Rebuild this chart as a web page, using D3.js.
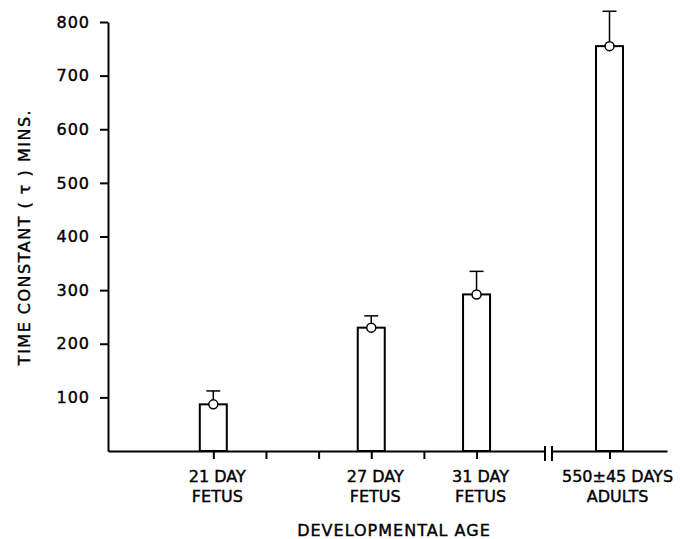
<!DOCTYPE html>
<html>
<head>
<script src="https://cdnjs.cloudflare.com/ajax/libs/d3/7.8.5/d3.min.js"></script>
<style>
  body { margin: 0; background: #fff; }
  text { font-family: "DejaVu Sans", sans-serif; fill: #000; stroke: #000; stroke-width: 0.4px; }
</style>
</head>
<body>
<script>
// groups
const labelTop = ["21 DAY", "27 DAY", "31 DAY", "550\u00B145 DAYS"];
const labelBottom = ["FETUS", "FETUS", "FETUS", "ADULTS"];
const ageDays = [21, 27, 31, null];      // null = adult group, past the axis break
const tau = [87, 230, 292, 755];         // mean time constant, mins
const tauUpper = [112, 252, 335, 820];   // top of error bar
const fetalTicks = [21, 23, 25, 27, 29, 31];
const yTicks = [100, 200, 300, 400, 500, 600, 700, 800];

const w = 680, h = 539;
const barW = 27;

const svg = d3.select("body").append("svg")
  .attr("width", w).attr("height", h);

const y = d3.scaleLinear().domain([0, 800]).range([451, 22]);
const xFetal = d3.scaleLinear().domain([17, 33.6]).range([108, 545]);
const xAdult = d3.scalePoint().domain(["adult"]).range([552, 667]);

const xPos = i => ageDays[i] === null ? xAdult("adult") : xFetal(ageDays[i]);

// y axis
const yAxis = svg.append("g")
  .attr("transform", "translate(108,0)")
  .call(d3.axisLeft(y).tickValues(yTicks).tickSize(8).tickSizeOuter(0).tickPadding(10));
yAxis.selectAll("path, line").attr("stroke", "#000").attr("stroke-width", 2);
yAxis.selectAll("text")
  .style("font-size", "16px").style("letter-spacing", "1px");

// x axis, two pieces with a break
svg.append("g")
  .attr("transform", "translate(0,451)")
  .call(d3.axisBottom(xFetal).tickValues(fetalTicks).tickFormat("").tickSize(8).tickSizeOuter(0));
svg.append("g")
  .attr("transform", "translate(0,451)")
  .call(d3.axisBottom(xAdult).tickFormat("").tickSize(8).tickSizeOuter(0));
svg.selectAll(".tick line, .domain").attr("stroke", "#000").attr("stroke-width", 2);

svg.append("g").selectAll("line")
  .data([xFetal.range()[1], xAdult.range()[0]])
  .enter().append("line")
  .attr("x1", d => d).attr("x2", d => d)
  .attr("y1", 446).attr("y2", 461)
  .attr("stroke", "#000").attr("stroke-width", 2);

// bars
const idx = d3.range(tau.length);
const g = svg.append("g");

g.selectAll(".err")
  .data(idx).enter().append("line")
  .attr("x1", i => xPos(i)).attr("x2", i => xPos(i))
  .attr("y1", i => y(tau[i])).attr("y2", i => y(tauUpper[i]))
  .attr("stroke", "#000").attr("stroke-width", 1.5);

g.selectAll(".cap")
  .data(idx).enter().append("line")
  .attr("x1", i => xPos(i) - 7).attr("x2", i => xPos(i) + 7)
  .attr("y1", i => y(tauUpper[i])).attr("y2", i => y(tauUpper[i]))
  .attr("stroke", "#000").attr("stroke-width", 1.5);

g.selectAll(".bar")
  .data(idx).enter().append("rect")
  .attr("x", i => xPos(i) - barW / 2)
  .attr("y", i => y(tau[i]))
  .attr("width", barW)
  .attr("height", i => y(0) - y(tau[i]))
  .attr("fill", "#fff")
  .attr("stroke", "#000").attr("stroke-width", 2);

g.selectAll(".pt")
  .data(idx).enter().append("circle")
  .attr("cx", i => xPos(i))
  .attr("cy", i => y(tau[i]))
  .attr("r", 4.5)
  .attr("fill", "#fff")
  .attr("stroke", "#000").attr("stroke-width", 1.5);

// category labels
const lab = svg.append("g").selectAll("g")
  .data(idx).enter().append("g")
  .attr("transform", i => "translate(" + (xPos(i) + (ageDays[i] === null ? 8 : 4)) + ",0)");
lab.append("text")
  .attr("y", 482).attr("text-anchor", "middle")
  .style("font-size", "16px")
  .text(i => labelTop[i]);
lab.append("text")
  .attr("y", 502).attr("text-anchor", "middle")
  .style("font-size", "16px")
  .text(i => labelBottom[i]);

// axis titles
svg.append("text")
  .attr("x", 394).attr("y", 536)
  .attr("text-anchor", "middle")
  .style("font-size", "16px").style("letter-spacing", "1px")
  .text("DEVELOPMENTAL AGE");

svg.append("text")
  .attr("transform", "translate(30,237) rotate(-90)")
  .attr("text-anchor", "middle")
  .style("font-size", "16px").style("letter-spacing", "1.5px")
  .text("TIME CONSTANT ( \u03C4 ) MINS.");
</script>
</body>
</html>
